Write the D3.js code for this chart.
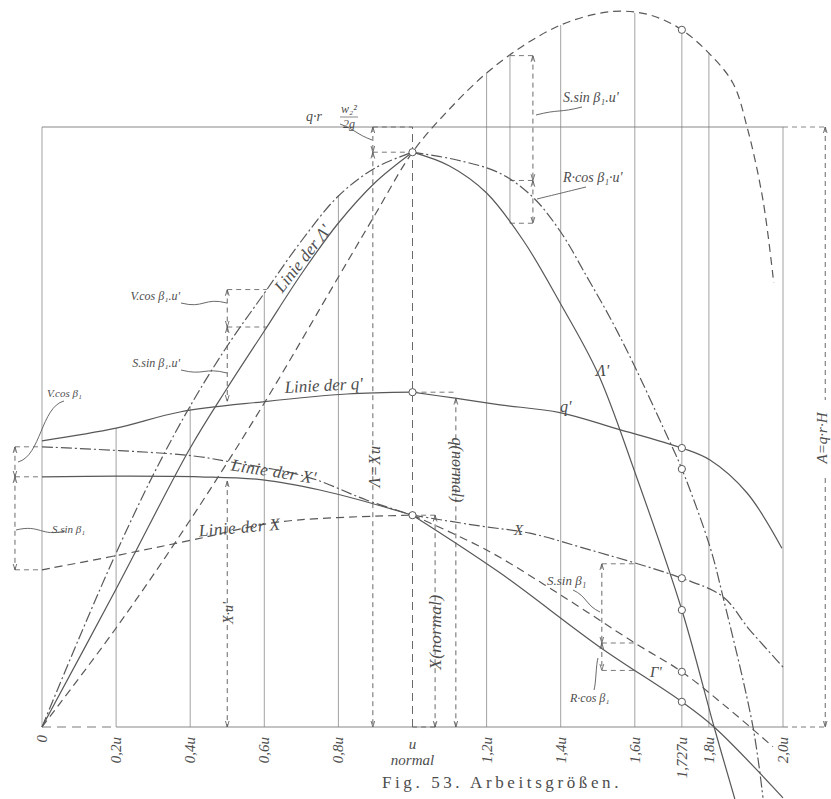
<!DOCTYPE html>
<html><head><meta charset="utf-8">
<script src="https://cdn.jsdelivr.net/npm/d3@7"></script>
<style>
body{margin:0;background:#fff;}
svg{display:block;}
text{font-family:"Liberation Serif","DejaVu Serif",serif;font-style:italic;fill:#4d4d4d;}
</style></head><body>
<svg id="c" width="831" height="799"></svg>
<script>
// ---------- data (x in multiples of u, y with A = q·r·H = 100) ----------
const tickValues = [0.2,0.4,0.6,0.8,1.0,1.2,1.4,1.6,1.727,1.8,2.0];
const tickLabels = ["0,2u","0,4u","0,6u","0,8u","u","1,2u","1,4u","1,6u","1,727u","1,8u","2,0u"];

const lambdaRise = [[0,0],[0.2,23],[0.4,46.5],[0.5,56.5],[0.6,66],[0.7,75.5],[0.8,84],[0.9,90.8],[1,95.8]];
const lambdaFall = [[1,95.8],[1.1,93.5],[1.2,89],[1.3,81],[1.4,70.5],[1.5,59],[1.6,42.5],[1.727,19.5],[1.814,0],[1.87,-12]];

const rcosRise = [[0,0],[0.1,14.8],[0.2,29],[0.3,42],[0.4,53.5],[0.5,63.5],[0.6,72.3],[0.7,81],[0.8,88.5],[0.9,93.2],[1,95.8]];
const rcosFall = [[1,95.8],[1.12,94.5],[1.236,92.3],[1.325,88.3],[1.4,82.5],[1.471,75],[1.535,68],[1.595,60.7],[1.676,50],[1.727,43],[1.803,30],[1.838,21.7],[1.919,0],[1.946,-11.8]];

const ssinLine = [[0,0],[0.2,16.5],[0.4,34.5],[0.6,54],[0.8,75],[0.9,85.5],[1,95.8],[1.1,103],[1.2,109],[1.3,113.6],[1.4,117],[1.5,118.9],[1.574,119.3],[1.65,118.5],[1.727,116.2],[1.8,112.3],[1.865,107.3],[1.903,100],[1.946,87.8],[1.975,74]];

const qRise = [[0,47.7],[0.2,49.8],[0.372,52.5],[0.596,54.2],[0.823,55.5],[1,55.8]];
const qFall = [[1,55.8],[1.115,54.8],[1.236,53.7],[1.398,52.4],[1.552,49.7],[1.727,46.5],[1.803,44.5],[1.903,39],[1.997,29.8]];

const xPrimeRise = [[0,41.7],[0.2,41.8],[0.426,41.7],[0.596,41.2],[0.75,39.5],[0.877,37.5],[1,35.3]];
const xPrimeFall = [[1,35.3],[1.236,25.7],[1.506,13.3],[1.727,4.2],[1.814,0],[2,-11.8]];

const gammaRise = [[0,46.7],[0.391,45.3],[0.507,44.2],[0.715,41.7],[0.877,37.8],[1,35.3]];
const gammaFall = [[1,35.3],[1.2,29.5],[1.4,22],[1.6,14],[1.727,9.2],[1.85,3.2],[1.973,-3.3]];

const xRise = [[0,26.2],[0.211,28.7],[0.408,31.2],[0.642,34.2],[1,35.3]];
const xFall = [[1,35.3],[1.182,33.5],[1.317,32.3],[1.452,30],[1.727,24.8],[1.838,21.7],[1.91,16.2],[2,10]];

const topLevel = 100;

// ---------- setup ----------
const svg = d3.select("#c");
const xs = d3.scaleLinear().domain([0,2]).range([42,783]);
const ys = d3.scaleLinear().domain([0,100]).range([727,127]);
const INK = "#585858";
const line = d3.line().x(d=>xs(d[0])).y(d=>ys(d[1])).curve(d3.curveCatmullRom.alpha(0.5));
const DASH = "8,5", DASHDOT = "11,3,2,3", FINE = "5,4";

function interp(arr, t){
  if (t < arr[0][0] || t > arr[arr.length-1][0]) return null;
  for (let i=0;i<arr.length-1;i++){
    const a=arr[i], b=arr[i+1];
    if (t>=a[0] && t<=b[0]) return a[1]+(b[1]-a[1])*(t-a[0])/(b[0]-a[0]);
  }
  return null;
}
const allCurves = [lambdaRise,lambdaFall,rcosRise,rcosFall,ssinLine,qRise,qFall,xPrimeRise,xPrimeFall,gammaRise,gammaFall,xRise,xFall];
function envelope(t){
  let m = -Infinity;
  allCurves.forEach(c=>{const v=interp(c,t); if(v!==null && v>m) m=v;});
  if (t>1.9) m = Math.max(m, topLevel);
  return m;
}

const defs = svg.append("defs");
defs.append("marker").attr("id","arr").attr("viewBox","0 0 10 10").attr("refX",10).attr("refY",5)
  .attr("markerWidth",7).attr("markerHeight",7).attr("orient","auto-start-reverse")
  .append("path").attr("d","M0,2 L10,5 L0,8").attr("fill","none").attr("stroke",INK).attr("stroke-width",1.3);

const g = svg.append("g");

// ---------- frame & grid ----------
tickValues.filter(t=>t!==1.0).forEach(t=>{
  g.append("line").attr("x1",xs(t)).attr("x2",xs(t)).attr("y1",ys(0)).attr("y2",ys(envelope(t)))
    .attr("stroke","#8a8a8a").attr("stroke-width",0.8);
});
const tm = 1.263;
g.append("line").attr("x1",xs(tm)).attr("x2",xs(tm)).attr("y1",ys(interp(lambdaFall,tm))).attr("y2",ys(interp(ssinLine,tm)))
  .attr("stroke","#8a8a8a").attr("stroke-width",0.8);
g.append("line").attr("x1",xs(0)).attr("x2",xs(0)).attr("y1",ys(0)).attr("y2",ys(topLevel)).attr("stroke","#8a8a8a").attr("stroke-width",0.8);
g.append("line").attr("x1",xs(0)).attr("x2",xs(2)).attr("y1",ys(topLevel)).attr("y2",ys(topLevel)).attr("stroke","#7a7a7a").attr("stroke-width",0.9);
g.append("line").attr("x1",xs(2)).attr("x2",xs(2.114)).attr("y1",ys(topLevel)).attr("y2",ys(topLevel)).attr("stroke","#7a7a7a").attr("stroke-width",0.9).attr("stroke-dasharray",FINE);
g.append("line").attr("x1",xs(0)).attr("x2",xs(0.2)).attr("y1",ys(0)).attr("y2",ys(0)).attr("stroke","#7a7a7a").attr("stroke-dasharray","9,6");
g.append("line").attr("x1",xs(0.2)).attr("x2",xs(2)).attr("y1",ys(0)).attr("y2",ys(0)).attr("stroke","#7a7a7a").attr("stroke-width",0.9);
g.append("line").attr("x1",xs(2)).attr("x2",xs(2.114)).attr("y1",ys(0)).attr("y2",ys(0)).attr("stroke","#7a7a7a").attr("stroke-dasharray",FINE);
g.append("line").attr("x1",xs(1)).attr("x2",xs(1)).attr("y1",ys(0)).attr("y2",ys(topLevel)).attr("stroke",INK).attr("stroke-width",0.9).attr("stroke-dasharray","8,5");

// ---------- curves ----------
function curve(data, dash, w){
  g.append("path").attr("d",line(data)).attr("fill","none").attr("stroke",INK)
   .attr("stroke-width",w||1.2).attr("stroke-dasharray",dash||null);
}
curve(lambdaRise); curve(lambdaFall);
curve(rcosRise, DASHDOT); curve(rcosFall, DASHDOT);
curve(ssinLine, DASH);
curve(qRise); curve(qFall);
curve(xPrimeRise); curve(xPrimeFall);
curve(gammaRise, DASHDOT); curve(gammaFall, DASH);
curve(xRise, DASH); curve(xFall, DASHDOT);

// ---------- dimension lines ----------
function dim(t, levels, ext){
  for (let i=0;i<levels.length-1;i++){
    g.append("line").attr("x1",xs(t)).attr("x2",xs(t)).attr("y1",ys(levels[i])).attr("y2",ys(levels[i+1]))
      .attr("stroke",INK).attr("stroke-width",0.9).attr("stroke-dasharray",FINE)
      .attr("marker-start","url(#arr)").attr("marker-end","url(#arr)");
  }
  if (ext!==undefined){
    levels.forEach(v=>{
      g.append("line").attr("x1",xs(t)).attr("x2",xs(ext)).attr("y1",ys(v)).attr("y2",ys(v))
        .attr("stroke",INK).attr("stroke-width",0.8).attr("stroke-dasharray",FINE);
    });
  }
}
dim(0.893,[topLevel, 95.8], 1);
dim(0.893,[95.8, 0]);
dim(1.061,[35.3,0],1);
dim(1.117,[interp(qFall,1.117),0]);
g.append("line").attr("x1",xs(1)).attr("x2",xs(1.117)).attr("y1",ys(55.8)).attr("y2",ys(55.8)).attr("stroke",INK).attr("stroke-width",0.8).attr("stroke-dasharray",FINE);
dim(0.5,[interp(xPrimeRise,0.5)-0.5,0]);
const tl = 0.607;
dim(0.5,[interp(rcosRise,tl), interp(lambdaRise,tl), interp(qRise,tl)]);
[interp(rcosRise,tl), interp(lambdaRise,tl)].forEach(v=>{
  g.append("line").attr("x1",xs(0.5)).attr("x2",xs(tl)).attr("y1",ys(v)).attr("y2",ys(v)).attr("stroke",INK).attr("stroke-width",0.8).attr("stroke-dasharray",FINE);
});
dim(1.325,[interp(ssinLine,tm), interp(rcosFall,tm), interp(lambdaFall,tm)], tm);
const tr = 1.6;
dim(1.511,[interp(xFall,tr), interp(gammaFall,tr), interp(xPrimeFall,tr)], tr);
dim(-0.073,[gammaRise[0][1], xPrimeRise[0][1], xRise[0][1]], 0);
dim(2.114,[topLevel,0]);

// ---------- circles ----------
const circleCurves = [ssinLine,qFall,rcosFall,xFall,lambdaFall,gammaFall,xPrimeFall];
circleCurves.forEach(c=>{
  g.append("circle").attr("cx",xs(1.727)).attr("cy",ys(interp(c,1.727))).attr("r",3.6)
   .attr("fill","#fff").attr("stroke",INK).attr("stroke-width",1);
});
[lambdaRise, qRise, xRise].forEach(c=>{
  const p=c[c.length-1];
  g.append("circle").attr("cx",xs(p[0])).attr("cy",ys(p[1])).attr("r",3.6).attr("fill","#fff").attr("stroke",INK).attr("stroke-width",1);
});

// ---------- pointer curls ----------
function curl(x1,y1,x2,y2){
  const mx=(x1+x2)/2;
  g.append("path").attr("d",`M${x1},${y1} C${mx},${y1+6} ${mx},${y2-6} ${x2},${y2}`)
   .attr("fill","none").attr("stroke",INK).attr("stroke-width",0.9);
}
curl(582,107,536,115);
curl(586,187,537,199);
curl(181,303,227,303);
curl(181,370,227,373);
curl(64,401,18,462);
curl(65,531,16,530);
curl(573,590,600,612);
curl(598,658,594,690);
curl(340,124,372,140);

// ---------- text ----------
function txt(x,y,s,size,rot,anchor,ls){
  const t=g.append("text").attr("x",x).attr("y",y).attr("font-size",size||13).attr("text-anchor",anchor||"start").text(s);
  if(rot) t.attr("transform",`rotate(${rot},${x},${y})`);
  if(ls) t.attr("letter-spacing",ls);
  return t;
}
tickValues.forEach((t,i)=>{
  if (t===1.0) return;
  txt(xs(t)+5, ys(0)+10, tickLabels[i], 15, -90, "end");
});
txt(xs(0)+5, ys(0)+8, "0", 15, -90, "end");
txt(xs(1), ys(0)+22, "u", 15, 0, "middle");
txt(xs(1), ys(0)+38, "normal", 15, 0, "middle");

txt(307,262,"Linie der Λ'",17,-52,"middle");
txt(180,300,"V.cos β₁.u'",12,0,"end");
txt(180,367,"S.sin β₁.u'",12,0,"end");
txt(47,397,"V.cos β₁",11);
txt(52,533,"S.sin β₁",11);
txt(324,391,"Linie der q'",17,-3,"middle");
txt(560,412,"q'",16);
txt(273,477,"Linie der X'",17,9,"middle",0.5);
txt(240,533,"Linie der X",17,-5,"middle",0.5);
txt(380,466,"Λ=Xu",16,-90,"middle",1);
txt(452,470,"q(normal)",16,90,"middle");
txt(441,632,"X(normal)",17,-90,"middle",0.5);
txt(233,613,"X·u'",14,-90,"middle");
txt(514,535,"X",15);
txt(596,376,"Λ'",16);
txt(563,102,"S.sin β₁.u'",14);
txt(563,182,"R·cos β₁·u'",14);
txt(547,585,"S.sin β₁",13);
txt(570,702,"R·cos β₁",12);
txt(650,677,"Γ'",15);
g.append("rect").attr("x",xs(2.114)-8).attr("y",400).attr("width",14).attr("height",76).attr("fill","#fff");
txt(xs(2.114)+2,438,"A=q·r·H",15,-90,"middle");
txt(306,121,"q·r",14);
txt(349,113,"w₂²",12,0,"middle");
g.append("line").attr("x1",340).attr("x2",358).attr("y1",117).attr("y2",117).attr("stroke",INK).attr("stroke-width",0.7);
txt(349,128,"2g",12,0,"middle");

g.append("text").attr("x",502).attr("y",788).attr("text-anchor","middle").attr("font-size",17)
 .style("font-style","normal").attr("letter-spacing",3.6).text("Fig. 53.  Arbeitsgrößen.");
</script></body></html>
